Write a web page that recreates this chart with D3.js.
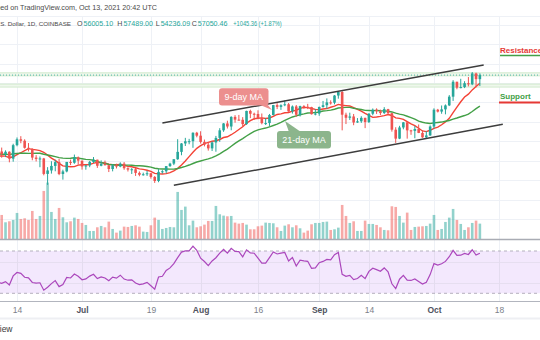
<!DOCTYPE html>
<html><head><meta charset="utf-8">
<script src="https://cdn.jsdelivr.net/npm/d3@7"></script>
<style>body{margin:0;background:#fff;overflow:hidden}svg{display:block}</style>
</head><body>
<svg id="c" width="540" height="340"></svg>
<script>
// ---------- DATA ----------
const firstDay = "2021-06-10";            // daily candles, consecutive days
const openP  = [37390,36690,37330,35550,39020,40530,40160,38340,38090,35820,35480,35600,31620,32510,33680,34660,31590,32260,34700,34490,35900,
  35040,33530,33800,34700,35280,33710,34230,33860,32880,33820,33510,34260,33090,32730,32820,31880,31390,31530,31790,30840,29800,32140,32300,33630,34270,35400,37290,39460,40020,40040,42210,
  41460,39860,39140,38190,39720,40880,42840,44610,43820,46290,45590,45550,44430,47830,47100,47040,45930,44690,44710,46770,49330,48870,49290,49540,47700,48980,46850,49070,48900,48810,46990,
  47150,48850,49290,50030,49940,51790,52700,46860,46070,46400,44850,45160,46050,44960,47110,48150,47760,47280,48290,47250,43000,40700,43570,44890,42830,42700,43180,42170,41030,41520,
  43820,48140,47660,48230,49250,51500,55340,53800,53960,54960,54680,57480,56005.10];
const highP  = [38400,37690,37440,39380,41000,41330,40530,39560,38200,36450,36110,35740,33360,34880,35260,35490,32700,34700,35300,36600,36100,
  35040,33940,34950,35960,35280,35100,35050,33910,34100,34250,34600,34670,33330,33120,33190,32250,31950,32440,31890,31060,32860,32590,33640,34500,35400,40550,39550,40900,40640,42320,42440,
  42600,40460,39770,39970,41400,43390,44700,45310,46460,46740,46800,46230,47880,48150,47380,47990,47170,46000,47050,49380,49820,49520,50500,49870,49240,49350,49180,49310,49650,48900,48250,
  48950,50400,51050,50560,51900,52790,52920,47370,47380,47050,45990,46460,46080,47260,48460,48500,48160,48800,48370,47330,43630,44000,44980,45150,42980,43920,44350,42780,42600,44130,
  48500,48350,49230,49500,51900,55750,55340,56100,55480,56550,57840,57680,57489.00];
const lowP   = [35780,35950,34600,34760,38730,39510,38120,37410,35130,34820,33340,31260,28800,31700,32300,31300,30150,32020,33890,34230,34030,
  32720,32700,33340,34400,33160,33580,33780,32100,32280,33020,33330,32680,32240,31600,31100,31020,31180,31100,30400,29300,29480,31700,31780,33420,33890,35250,36420,38800,39250,38330,41040,
  39420,38700,37620,37520,37330,39870,42450,43300,42850,44800,45370,43800,44250,45980,45520,45700,44380,44210,43960,46650,48300,48100,49050,47610,47150,46300,46400,48380,48300,46900,46700,
  46570,48660,48400,49450,49530,50980,42830,44450,45500,44150,44750,44750,43400,44720,46710,47060,46770,47060,46870,42500,39600,40570,43100,40700,41680,40800,42120,40900,40760,41420,
  43300,47430,47100,46950,49080,50400,53400,53650,53700,54140,54450,53900,54236.09];
const closeP = [36690,37330,35550,39020,40530,40160,38340,38090,35820,35480,35600,31620,32510,33680,34660,31590,32260,34700,34490,35900,35040,
  33530,33800,34700,35280,33710,34230,33860,32880,33820,33510,34260,33090,32730,32820,31880,31390,31530,31790,30840,29800,32140,32300,33630,34270,35400,37290,39460,40020,40040,42210,41460,
  39860,39140,38190,39720,40880,42840,44610,43820,46290,45590,45550,44430,47830,47100,47040,45930,44690,44710,46770,49330,48870,49290,49540,47700,48980,46850,49070,48900,48810,46990,47150,
  48850,49290,50030,49940,51790,52700,46860,46070,46400,44850,45160,46050,44960,47110,48150,47760,47280,48290,47250,43000,40700,43570,44890,42830,42700,43180,42170,41030,41520,43820,
  48140,47660,48230,49250,51500,55340,53800,53960,54960,54680,57480,56005.10,57050.46];
// volume, thousand BTC
const volumeK = [18.25,12.75,13.5,14.5,19.75,15.25,15.75,14.5,21.25,15.25,17.5,36.25,42.5,20.5,15.25,23.5,16.5,12.75,13.5,16.25,15.25,
  12.25,10.75,6.25,6.25,9,10,9,13.25,7.75,5,6.5,9.5,9.25,10,10.5,9.5,5.75,5.5,10.5,16.25,14.5,7.75,8.5,9.25,9,35.5,22,24.5,10.5,14,9,
  9.75,11,13.75,13.75,25,18.75,17.75,17.25,17.5,12.5,11.75,12.25,11,7.5,7.5,9.75,10.25,12.5,12.25,12,9,6.25,10.25,11.25,9,10.5,8.25,5,6.5,11.25,12.25,
  12.25,13,13.25,7,7.5,8.75,25.75,17.5,12.25,13.5,6.25,6.25,14,11.5,11.5,10.75,9,7,6.75,24.75,24.25,17.5,12.5,20,7,9.25,9.5,9.75,10,11.75,
  18.25,7,7.75,13,16.25,22.75,14.5,11.5,7,9,12.25,14,11.75];
// closes before the first visible day (May 10 – Jun 9), needed by the indicators
const warmupFirstDay = "2021-05-10";
const warmupClose = [55860,56700,49150,49720,49880,46760,46450,43560,42910,36730,40620,37300,37450,34720,38800,38330,39240,38530,35680,34620,35650,37340,
  36690,37580,39190,36860,35520,35800,33550,33400,37390];

const tickDates  = ["2021-06-14","2021-07-01","2021-07-19","2021-08-01","2021-08-16","2021-09-01","2021-09-14","2021-10-01","2021-10-18"];
const tickLabels = ["14","Jul","19","Aug","16","Sep","14","Oct","18"];
const priceGrid  = [15000,20000,25000,30000,35000,40000,45000,50000,55000,60000,65000,70000];
const rsiLevels  = [30,70];
const rsiGrid    = [40,60];
const zoneLines  = [57250,54350];
const upperChannel = [["2021-07-22",44725],["2021-10-14",59650]];
const lowerChannel = [["2021-07-25",28690],["2021-10-19",44390]];
const maPeriods = [9,21];
const rsiPeriod = 14;
const headerLine1 = "Published on TradingView.com, Oct 13, 2021 20:42 UTC";
const symbolText = "Bitcoin / U.S. Dollar, 1D, COINBASE";
const ohlcLabels = ["O","H","L","C"];
const ohlcValues = ["56005.10","57489.00","54236.09","57050.46"];
const changeText = "+1045.36 (+1.87%)";

// ---------- HELPERS ----------
const parse = s => { const [y,m,d] = s.split("-").map(Number); return new Date(Date.UTC(y,m-1,d)); };
const addDays = (dt,n) => new Date(dt.getTime() + n*86400000);
const allClose = warmupClose.concat(closeP);
const allDates = allClose.map((_,i)=>addDays(parse(warmupFirstDay), i));
const dates = closeP.map((_,i)=>addDays(parse(firstDay), i));
const off = warmupClose.length;

function sma(v,n){ return v.map((_,i)=> i<n-1 ? null : d3.mean(v.slice(i-n+1,i+1))); }
function rsi(v,n){
  const out = v.map(()=>null); let g=0,l=0;
  for(let i=1;i<=n;i++){ const d=v[i]-v[i-1]; if(d>0) g+=d; else l-=d; }
  g/=n; l/=n; out[n]=100-100/(1+g/l);
  for(let i=n+1;i<v.length;i++){ const d=v[i]-v[i-1];
    g=(g*(n-1)+Math.max(d,0))/n; l=(l*(n-1)+Math.max(-d,0))/n; out[i]=100-100/(1+g/l); }
  return out;
}

// ---------- SCALES ----------
const W=540,H=340;
const x = d3.scaleUtc().domain([parse("2021-06-14"), parse("2021-10-18")]).range([17,499]);
const yP = d3.scaleLinear().domain([15000,72000]).range([238.5,17]);
const yV = d3.scaleLinear().domain([0,42.5]).range([239.3,182.6]);
const yR = d3.scaleLinear().domain([30,70]).range([293.3,251]);
const step = x(parse("2021-06-15")) - x(parse("2021-06-14"));
const bw = step*0.68;

const UP="#26a69a", DN="#ef5350";
const FF="Liberation Sans, Arial, sans-serif";
const svg = d3.select("#c");
svg.append("rect").attr("width",W).attr("height",H).attr("fill","#fff");
const defs = svg.append("defs");
defs.append("clipPath").attr("id","pp").append("rect").attr("x",0).attr("y",16).attr("width",W).attr("height",223);
defs.append("clipPath").attr("id","rp").append("rect").attr("x",0).attr("y",240).attr("width",W).attr("height",62);

// ---------- GRID ----------
const grid = svg.append("g").attr("stroke","#eef1f6").attr("stroke-width",1);
grid.selectAll(".v").data(tickDates).join("line")
  .attr("x1",d=>Math.round(x(parse(d)))+0.5).attr("x2",d=>Math.round(x(parse(d)))+0.5).attr("y1",16).attr("y2",302);
grid.selectAll(".h").data(priceGrid.filter(p=>yP(p)>16 && yP(p)<236)).join("line")
  .attr("x1",0).attr("x2",W).attr("y1",d=>Math.round(yP(d))+0.5).attr("y2",d=>Math.round(yP(d))+0.5);
grid.append("line").attr("x1",0).attr("x2",W).attr("y1",16.5).attr("y2",16.5);

// RSI band
svg.append("rect").attr("x",0).attr("width",W).attr("y",yR(70)).attr("height",yR(30)-yR(70)).attr("fill","#f3e8fd");
svg.append("g").selectAll("line").data(rsiGrid).join("line")
  .attr("x1",0).attr("x2",W).attr("y1",d=>Math.round(yR(d))+0.5).attr("y2",d=>Math.round(yR(d))+0.5)
  .attr("stroke","#e6def0").attr("stroke-width",1);
svg.append("g").selectAll("line").data(tickDates).join("line")
  .attr("x1",d=>Math.round(x(parse(d)))+0.5).attr("x2",d=>Math.round(x(parse(d)))+0.5).attr("y1",yR(70)).attr("y2",yR(30))
  .attr("stroke","#e4dcef");
svg.append("g").selectAll("line").data(rsiLevels).join("line")
  .attr("x1",0).attr("x2",W).attr("y1",d=>yR(d)).attr("y2",d=>yR(d))
  .attr("stroke","#b4b0bd").attr("stroke-dasharray","3,3").attr("stroke-width",1);

// zone lines (pale green double lines)
const pz = svg.append("g").attr("clip-path","url(#pp)");
zoneLines.forEach(p=>{
  const yy = yP(p);
  pz.append("rect").attr("x",0).attr("width",W).attr("y",yy-1.5).attr("height",3).attr("fill","#eef7ec");
  [yy-1.5,yy+1.5].forEach(v=>pz.append("line").attr("x1",0).attr("x2",W).attr("y1",v).attr("y2",v)
    .attr("stroke","#d2eacd").attr("stroke-width",1));
});

// ---------- VOLUME ----------
const idx = d3.range(closeP.length);
pz.append("g").selectAll("rect").data(idx).join("rect")
  .attr("x",i=>x(dates[i])-bw/2).attr("width",bw)
  .attr("y",i=>yV(volumeK[i])).attr("height",i=>yV(0)-yV(volumeK[i]))
  .attr("fill",i=>closeP[i]>=openP[i]?UP:DN).attr("opacity",0.5);

// last price dotted line
pz.append("line").attr("x1",0).attr("x2",W)
  .attr("y1",yP(closeP[closeP.length-1])).attr("y2",yP(closeP[closeP.length-1]))
  .attr("stroke",UP).attr("stroke-dasharray","1,2").attr("stroke-width",1).attr("opacity",0.8);

// ---------- MAs ----------
const maColors = ["#f44336","#43a047"];
maPeriods.forEach((n,k)=>{
  const m = sma(allClose,n);
  const pts = d3.range(off-1, allClose.length).map(i=>[x(allDates[i]), yP(m[i])]);
  pz.append("path").attr("d",d3.line()(pts)).attr("fill","none").attr("stroke",maColors[k]).attr("stroke-width",1.4);
});

// ---------- CANDLES ----------
const cg = pz.append("g");
cg.selectAll("line").data(idx).join("line")
  .attr("x1",i=>x(dates[i])).attr("x2",i=>x(dates[i]))
  .attr("y1",i=>yP(highP[i])).attr("y2",i=>yP(lowP[i]))
  .attr("stroke",i=>closeP[i]>=openP[i]?UP:DN).attr("stroke-width",1);
cg.selectAll("rect").data(idx).join("rect")
  .attr("x",i=>x(dates[i])-bw/2).attr("width",bw)
  .attr("y",i=>yP(Math.max(openP[i],closeP[i])))
  .attr("height",i=>Math.max(1,Math.abs(yP(openP[i])-yP(closeP[i]))))
  .attr("fill",i=>closeP[i]>=openP[i]?UP:DN);

// channel
[upperChannel,lowerChannel].forEach(c=>{
  pz.append("line").attr("x1",x(parse(c[0][0]))).attr("y1",yP(c[0][1]))
    .attr("x2",x(parse(c[1][0]))).attr("y2",yP(c[1][1]))
    .attr("stroke","#3d3d3d").attr("stroke-width",1.5);
});

// ---------- RSI ----------
const r = rsi(allClose, rsiPeriod);
const rpts = d3.range(off-1, allClose.length).map(i=>[x(allDates[i]), yR(r[i])]);
svg.append("path").attr("clip-path","url(#rp)").attr("d",d3.line()(rpts))
  .attr("fill","none").attr("stroke","#ab47bc").attr("stroke-width",1.2);

// separators
svg.append("line").attr("x1",0).attr("x2",W).attr("y1",239.5).attr("y2",239.5).attr("stroke","#a9acb4").attr("stroke-width",1.3);
svg.append("line").attr("x1",0).attr("x2",W).attr("y1",301.5).attr("y2",301.5).attr("stroke","#b2b5be").attr("stroke-width",1);

// ---------- TIME AXIS ----------
const ax = svg.append("g").attr("transform","translate(0,302)")
  .call(d3.axisBottom(x).tickValues(tickDates.map(parse)).tickSize(0).tickPadding(0)
    .tickFormat((d,i)=>tickLabels[i]));
ax.select(".domain").remove();
ax.selectAll("text").attr("y",11).attr("dy",0)
  .attr("font-family",FF).attr("font-size",8.5)
  .attr("fill",(d,i)=>/^[A-Z]/.test(tickLabels[i])?"#50535e":"#7c7f8a")
  .attr("font-weight",(d,i)=>/^[A-Z]/.test(tickLabels[i])?"bold":"normal");

svg.append("rect").attr("x",0).attr("y",317.5).attr("width",W).attr("height",2).attr("fill","#eeeff3");
svg.append("text").attr("x",12.5).attr("y",331.5).attr("text-anchor","end").attr("font-family",FF)
  .attr("font-size",8.5).attr("fill","#3a3a3a").text("TradingView");

// ---------- HEADER ----------
function measure(str, fs){
  const t = svg.append("text").attr("font-family",FF).attr("font-size",fs).text(str);
  const w = t.node().getComputedTextLength(); t.remove(); return w;
}
// place a string so that it ends at endX and its trailing part `vis` spans `visW` px (font size scaled)
function fitEnd(str, vis, endX, visW, y, fs, fill){
  const f = fs * visW / measure(vis, fs);
  svg.append("text").attr("x",endX).attr("y",y).attr("text-anchor","end")
    .attr("font-family",FF).attr("font-size",f).attr("fill",fill).text(str);
}
const HFS = 7.6, GREY="#4a4a4a", SFS = 7.1;
fitEnd(headerLine1, "ed on TradingView.com, Oct 13, 2021 20:42 UTC", 157, 157, 10, HFS, GREY);
fitEnd(symbolText, "S. Dollar, 1D, COINBASE", 71, 71, 26, HFS, GREY);
const segX = [77,117.3,155.7,191.7];
ohlcLabels.forEach((lab,i)=>{
  svg.append("text").attr("x",segX[i]).attr("y",26).attr("font-family",FF).attr("font-size",SFS)
    .attr("fill",GREY).text(lab);
  svg.append("text").attr("x",segX[i]+measure(lab,SFS)+1).attr("y",26).attr("font-family",FF)
    .attr("font-size",SFS).attr("fill",UP).text(ohlcValues[i]);
});
svg.append("text").attr("x",233.3).attr("y",26).attr("font-family",FF).attr("font-size",HFS).attr("fill",UP)
  .attr("textLength",48.4).attr("lengthAdjust","spacingAndGlyphs").text(changeText);

// ---------- ANNOTATIONS ----------
function label(txt, bx, by, bwid, bh, fill, tail){
  const g = svg.append("g");
  g.append("path").attr("d",d3.line()(tail)+"Z").attr("fill",fill);
  g.append("rect").attr("x",bx).attr("y",by).attr("width",bwid).attr("height",bh).attr("rx",3).attr("fill",fill);
  g.append("text").attr("x",bx+bwid/2).attr("y",by+bh/2+3.2).attr("text-anchor","middle")
    .attr("font-family",FF).attr("font-size",9).attr("fill","#fff").text(txt);
}
label("9-day MA",219,88.3,49.5,17.2,"#ec8f8e",[[258,104],[267,104],[272,110]]);
label("21-day MA",277,131,54,17.5,"#8cb58c",[[289,132],[301,132],[285,121]]);

svg.append("text").attr("x",500).attr("y",53).attr("font-family",FF).attr("font-weight","bold")
  .attr("font-size",8).attr("fill","#e53935").text("Resistance");
svg.append("line").attr("x1",500).attr("x2",W).attr("y1",55.5).attr("y2",55.5).attr("stroke","#43a047").attr("stroke-width",1.5);
svg.append("text").attr("x",500).attr("y",99.3).attr("font-family",FF).attr("font-weight","bold")
  .attr("font-size",8).attr("fill","#43a047").text("Support");
svg.append("line").attr("x1",499).attr("x2",W).attr("y1",102.5).attr("y2",102.5).attr("stroke","#e53935").attr("stroke-width",2);
</script>
</body></html>
